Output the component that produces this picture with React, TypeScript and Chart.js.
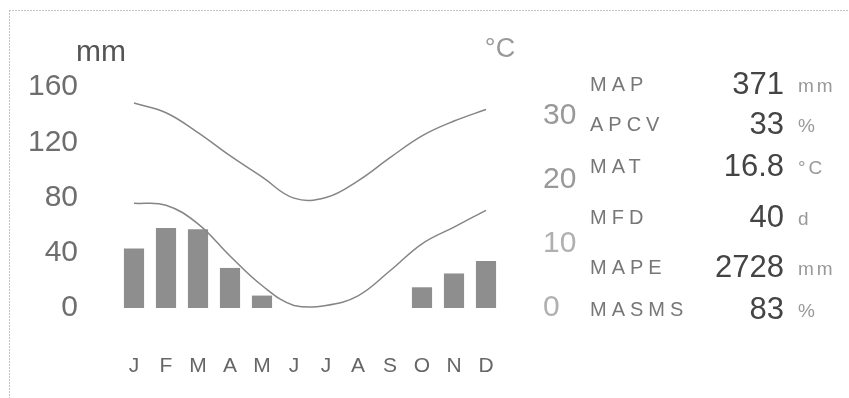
import React, { useEffect, useRef } from "react";
import { Chart, registerables } from "chart.js";

Chart.register(...registerables);

// ---- data ----
const months = ["J", "F", "M", "A", "M", "J", "J", "A", "S", "O", "N", "D"];
const precipitation = [43, 58, 57, 29, 9, 0, 0, 0, 0, 15, 25, 34];
const maxTemp = [31.9, 30.4, 27.3, 23.7, 20.4, 17.1, 17.2, 19.8, 23.4, 26.8, 29.1, 30.9];
const minTemp = [16.3, 16.0, 13.1, 8.1, 3.5, 0.4, 0.4, 1.9, 5.8, 10.0, 12.6, 15.2];
const precipTicks = [0, 40, 80, 120, 160];
const tempTicks = [0, 10, 20, 30];
const precipUnit = "mm";
const tempUnit = "°C";
const statLabels = ["MAP", "APCV", "MAT", "MFD", "MAPE", "MASMS"];
const statValues = ["371", "33", "16.8", "40", "2728", "83"];
const statUnits = ["mm", "%", "°C", "d", "mm", "%"];

const FONT = '"Liberation Sans", Arial, Helvetica, sans-serif';
const statRowY = [85, 125, 167, 218, 268, 310];

const decorPlugin = {
  id: "decor",
  beforeDraw(chart: any) {
    const ctx = chart.ctx as CanvasRenderingContext2D;
    ctx.save();
    ctx.fillStyle = "#ffffff";
    ctx.fillRect(0, 0, chart.width, chart.height);
    ctx.strokeStyle = "#c4c4c4";
    ctx.lineWidth = 1;
    ctx.setLineDash([2, 1]);
    ctx.beginPath();
    ctx.moveTo(9, 10.5);
    ctx.lineTo(chart.width, 10.5);
    ctx.moveTo(9.5, 10);
    ctx.lineTo(9.5, chart.height);
    ctx.stroke();
    ctx.restore();
  },
  afterDraw(chart: any) {
    const ctx = chart.ctx as CanvasRenderingContext2D;
    ctx.save();
    ctx.textBaseline = "middle";
    // axis units
    ctx.fillStyle = "#555";
    ctx.font = `30px ${FONT}`;
    ctx.textAlign = "center";
    ctx.fillText(precipUnit, 101, 53);
    ctx.fillStyle = "#999";
    ctx.font = `27px ${FONT}`;
    ctx.fillText(tempUnit, 500, 50);

    // stats panel
    for (let i = 0; i < statLabels.length; i++) {
      const y = statRowY[i];
      ctx.textAlign = "left";
      ctx.fillStyle = "#777";
      ctx.font = `20px ${FONT}`;
      (ctx as any).letterSpacing = "5px";
      ctx.fillText(statLabels[i], 590, y);

      (ctx as any).letterSpacing = "0px";
      ctx.textAlign = "right";
      ctx.fillStyle = "#444";
      ctx.font = `31px ${FONT}`;
      ctx.fillText(statValues[i], 784, y);

      ctx.textAlign = "left";
      ctx.fillStyle = "#999";
      ctx.font = `19px ${FONT}`;
      (ctx as any).letterSpacing = "3px";
      ctx.fillText(statUnits[i], 798, y + 2);
      (ctx as any).letterSpacing = "0px";
    }
    ctx.restore();
  },
};

export default function App() {
  const canvasRef = useRef<HTMLCanvasElement | null>(null);

  useEffect(() => {
    if (!canvasRef.current) return;
    const chart = new Chart(canvasRef.current, {
      type: "bar",
      data: {
        labels: months,
        datasets: [
          {
            type: "line",
            label: "Max temperature",
            data: maxTemp,
            yAxisID: "y1",
            borderColor: "#858585",
            borderWidth: 1.5,
            pointRadius: 0,
            tension: 0.4,
            fill: false,
            order: 1,
          } as any,
          {
            type: "line",
            label: "Min temperature",
            data: minTemp,
            yAxisID: "y1",
            borderColor: "#858585",
            borderWidth: 1.5,
            pointRadius: 0,
            tension: 0.4,
            fill: false,
            order: 1,
          } as any,
          {
            type: "bar",
            label: "Precipitation",
            data: precipitation,
            yAxisID: "y",
            backgroundColor: "#8e8e8e",
            borderWidth: 0,
            barPercentage: 0.63,
            categoryPercentage: 1,
            order: 2,
          } as any,
        ],
      },
      options: {
        animation: false,
        responsive: true,
        maintainAspectRatio: false,
        layout: { padding: { top: 87, left: 0, right: 0, bottom: 0 } },
        plugins: {
          legend: { display: false },
          tooltip: { enabled: false },
        },
        scales: {
          x: {
            type: "category",
            offset: true,
            grid: { display: false },
            border: { display: false },
            ticks: {
              color: "#666",
              font: { family: FONT, size: 21 },
              padding: 38,
              maxRotation: 0,
              autoSkip: false,
            },
            afterFit(scale: any) {
              scale.height = 90;
            },
          },
          y: {
            type: "linear",
            position: "left",
            min: 0,
            max: 160,
            grid: { display: false },
            border: { display: false },
            afterBuildTicks(scale: any) {
              scale.ticks = precipTicks.map((v) => ({ value: v }));
            },
            ticks: {
              color: "#6e6e6e",
              font: { family: FONT, size: 30 },
              padding: 32,
            },
            afterFit(scale: any) {
              scale.width = 118;
            },
          },
          y1: {
            type: "linear",
            position: "right",
            min: 0,
            max: 34.4,
            grid: { display: false },
            border: { display: false },
            afterBuildTicks(scale: any) {
              scale.ticks = tempTicks.map((v) => ({ value: v }));
            },
            ticks: {
              color: (ctx: any) => (ctx.tick && ctx.tick.value >= 20 ? "#999" : "#b0b0b0"),
              font: { family: FONT, size: 30 },
              padding: 33,
            },
            afterFit(scale: any) {
              scale.width = 347;
            },
          },
        },
      } as any,
      plugins: [decorPlugin],
    });
    return () => chart.destroy();
  }, []);

  return (
    <div style={{ position: "fixed", left: 0, top: 0, width: 849, height: 398, background: "#fff" }}>
      <canvas ref={canvasRef} />
    </div>
  );
}
